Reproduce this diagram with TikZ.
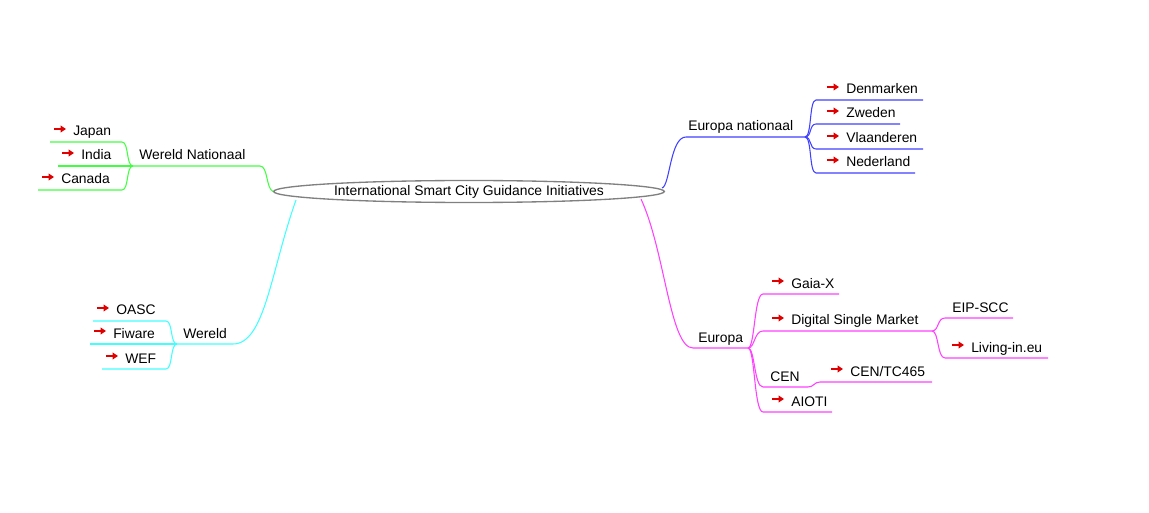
\documentclass[tikz,border=0pt]{standalone}
\usepackage{fontspec}
\setmainfont{Liberation Sans}
\usetikzlibrary{arrows.meta,shapes.geometric,calc}
\definecolor{cgreen}{RGB}{64,255,64}
\definecolor{cblue}{RGB}{64,64,255}
\definecolor{ccyan}{RGB}{64,255,255}
\definecolor{cmag}{RGB}{255,64,255}
\definecolor{cred}{RGB}{224,0,0}
\definecolor{cgray}{RGB}{128,128,128}
\begin{document}
\begin{tikzpicture}[x=0.75pt,y=-0.75pt,
  lbl/.style={anchor=base west,inner sep=0pt,font=\fontsize{10.4}{12}\selectfont},
  ptr/.style={draw=cred,line width=1.5pt,-{Triangle[length=4pt,width=5pt]}},
  br/.style={line width=0.8pt},
  gbr/.style={br,draw=cgreen},
  bbr/.style={br,draw=cblue},
  cbr/.style={br,draw=ccyan},
  mbr/.style={br,draw=cmag},
  rootbox/.style={draw=cgray,line width=1pt,fill=white,ellipse,minimum width=293pt,minimum height=16.5pt,inner sep=0pt,font=\fontsize{10.4}{12}\selectfont}
]
\useasboundingbox (0,0) rectangle (1149,513);

% root
\node[rootbox] (root) at (469,191.5) {\raisebox{-1pt}{International Smart City Guidance Initiatives}};
\coordinate (rB) at (662,188);
\coordinate (rC) at (296,200);
\coordinate (rM) at (641,199);

% ---------- Wereld Nationaal (green)
\coordinate (wnE) at (260,166);
\coordinate (wnF) at (133,166);
\node[lbl] (wn) at (139,160) {Wereld Nationaal};
\draw[gbr] (root.west) .. controls +(-7,-3) and +(8,0) .. (wnE) -- (wnF);
\coordinate (jpS) at (122,142); \coordinate (jpE) at (50,142);
\coordinate (inE) at (58,166);
\coordinate (cnS) at (122,190); \coordinate (cnE) at (38,190);
\draw[gbr] (wnF) .. controls +(-7,0) and +(7,0) .. (jpS) -- (jpE);
\draw[gbr] (wnF) -- (inE);
\draw[gbr] (wnF) .. controls +(-7,0) and +(7,0) .. (cnS) -- (cnE);
\node[lbl] (jp) at (73,136) {Japan};
\node[lbl] (in) at (81,160) {India};
\node[lbl] (cn) at (61,184) {Canada};

% ---------- Europa nationaal (blue)
\coordinate (enS) at (686,137);
\coordinate (enF) at (805,137);
\node[lbl] (en) at (688,131) {Europa nationaal};
\draw[bbr] (rB) .. controls +(8,-2) and +(-16,0) .. (enS) -- (enF);
\coordinate (dkS) at (816,100); \coordinate (dkE) at (923,100);
\coordinate (zwS) at (816,124); \coordinate (zwE) at (900,124);
\coordinate (vlS) at (816,149); \coordinate (vlE) at (923,149);
\coordinate (nlS) at (816,173); \coordinate (nlE) at (915,173);
\draw[bbr] (enF) .. controls +(7,0) and +(-7,0) .. (dkS) -- (dkE);
\draw[bbr] (enF) .. controls +(7,0) and +(-7,0) .. (zwS) -- (zwE);
\draw[bbr] (enF) .. controls +(7,0) and +(-7,0) .. (vlS) -- (vlE);
\draw[bbr] (enF) .. controls +(7,0) and +(-7,0) .. (nlS) -- (nlE);
\node[lbl] (dk) at (846,94) {Denmarken};
\node[lbl] (zw) at (846,118) {Zweden};
\node[lbl] (vl) at (846,143) {Vlaanderen};
\node[lbl] (nl) at (846,167) {Nederland};

% ---------- Wereld (cyan)
\coordinate (wS) at (233,344);
\coordinate (wF) at (177,344);
\node[lbl] (we) at (183,338) {Wereld};
\draw[cbr] (rC) .. controls +(-25,70) and +(32,0) .. (wS) -- (wF);
\coordinate (oaS) at (166,321); \coordinate (oaE) at (93,321);
\coordinate (fiE) at (90,344);
\coordinate (wfS) at (166,369); \coordinate (wfE) at (102,369);
\draw[cbr] (wF) .. controls +(-7,0) and +(7,0) .. (oaS) -- (oaE);
\draw[cbr] (wF) -- (fiE);
\draw[cbr] (wF) .. controls +(-7,0) and +(7,0) .. (wfS) -- (wfE);
\node[lbl] (oa) at (116,315) {OASC};
\node[lbl] (fi) at (113,338) {Fiware};
\node[lbl] (wf) at (125,363) {WEF};

% ---------- Europa (magenta)
\coordinate (eS) at (693,348);
\coordinate (eF) at (748,348);
\node[lbl] (eu) at (698,342) {Europa};
\draw[mbr] (rM) .. controls +(24,52) and +(-23,0) .. (eS) -- (eF);
\coordinate (gxS) at (763,294); \coordinate (gxE) at (839,294);
\coordinate (dsS) at (763,331); \coordinate (dsE) at (932,331);
\coordinate (ceS) at (763,387); \coordinate (ceE) at (808,387);
\coordinate (aiS) at (763,412); \coordinate (aiE) at (832,412);
\draw[mbr] (eF) .. controls +(7,0) and +(-9,0) .. (gxS) -- (gxE);
\draw[mbr] (eF) .. controls +(7,0) and +(-9,0) .. (dsS) -- (dsE);
\draw[mbr] (eF) .. controls +(7,0) and +(-9,0) .. (ceS) -- (ceE);
\draw[mbr] (eF) .. controls +(7,0) and +(-9,0) .. (aiS) -- (aiE);
\node[lbl] (gx) at (791,288) {Gaia-X};
\node[lbl] (ds) at (791,325) {Digital Single Market};
\node[lbl] (ce) at (770,381) {CEN};
\node[lbl] (ai) at (791,406) {AIOTI};
% Digital Single Market children
\coordinate (eipS) at (945,318); \coordinate (eipE) at (1013,318);
\coordinate (livS) at (945,358); \coordinate (livE) at (1048,358);
\draw[mbr] (dsE) .. controls +(7,0) and +(-8,0) .. (eipS) -- (eipE);
\draw[mbr] (dsE) .. controls +(7,0) and +(-8,0) .. (livS) -- (livE);
\node[lbl] (eip) at (952,312) {EIP-SCC};
\node[lbl] (liv) at (971,352) {Living-in.eu};
% CEN child
\coordinate (tcS) at (820,382); \coordinate (tcE) at (932,382);
\draw[mbr] (ceE) .. controls +(6,0) and +(-6,0) .. (tcS) -- (tcE);
\node[lbl] (tc) at (850,376) {CEN/TC465};

% ---------- red pointers
\foreach \n in {jp,in,cn,dk,zw,vl,nl,oa,fi,wf,gx,ds,ai,liv,tc}{
  \draw[ptr] ($(\n.base west)+(-19,-7)$) -- +(12,0);
}
\end{tikzpicture}
\end{document}
